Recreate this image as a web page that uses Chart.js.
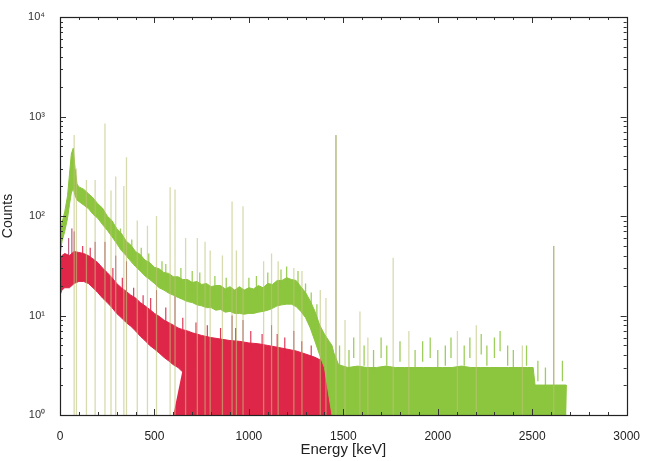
<!DOCTYPE html>
<html>
<head>
<meta charset="utf-8">
<script src="https://cdn.jsdelivr.net/npm/chart.js@4.4.0/dist/chart.umd.min.js"></script>
<style>
html,body{margin:0;padding:0;background:#fff;}
#wrap{width:646px;height:461px;position:relative;}
</style>
</head>
<body>
<div id="wrap"><canvas id="c" width="646" height="461"></canvas></div>
<script>
// ---- data ----
const xTicks = [0, 500, 1000, 1500, 2000, 2500, 3000];
const yTicks = [1, 10, 100, 1000, 10000];
const yTickLabels = ['10\u2070', '10\u00b9', '10\u00b2', '10\u00b3', '10\u2074'];

// green spectrum: band envelope (upper / lower)
const greenE  = [0,10,25,40,50,60,70,80,90,100,125,150,175,200,225,250,275,300,325,350,375,400,425,450,475,500,525,550,575,600,625,650,675,700,725,750,775,800,825,850,875,900,925,950,975,1000,1025,1050,1075,1100,1125,1150,1175,1200,1225,1250,1275,1300,1325,1350,1375,1400,1425,1440,1450,1475,1525,1575,1625,1675,1725,1775,1825,1875,1925,1975,2025,2075,2125,2175,2225,2275,2325,2375,2425,2475,2505,2515,2560,2600,2640,2680,2684];
const greenHi = [65,85,110,160,260,420,480,300,210,196,186,168,152,133,120,100,90,75,67,56,51,44,41,36,34,30.5,29.5,27,26.5,24.5,24.5,23,23,21.5,22,20.5,21,19.5,20,20,18.5,19.5,18,19.5,18,19,18.5,20,19,21,20.5,22.5,22.5,24,23,22.5,19.5,17,14,11,8,6.5,5.5,5,4.2,3.2,3,3.1,3,3,3.1,3,3,3,3,3,3,3,3.1,3,3,3,3,3,3,3,3,2,2,2,2,2,2];
const greenLo = [40,55,70,95,130,170,190,160,145,140,129,119,104,95,82,72,62,53,45,40,35,31,28,25,23,21,19,18,16.8,16,15.2,14.5,13.8,13.5,12.8,12.5,12,12,11.3,11.5,10.8,11,10.5,10.5,10.3,10.5,10.5,10.8,11,11.3,11.8,12.5,12.8,13,13,12.3,11,9.5,7.5,5.5,4,3,1.5,1,1,1,1,1,1,1,1,1,1,1,1,1,1,1,1,1,1,1,1,1,1,1,1,1,1,1,1,1,1];

// green sharp lines (energy keV, counts at top)
const greenPeakE = [75,87,140,186,238,270,295,338,352,409,463,511,583,609,665,727,768,795,860,911,934,969,1078,1120,1155,1238,1281,1378,1408,1461,1509,1588,1630,1764,1847,2104,2204,2448,2614];
const greenPeakC = [650,300,230,230,850,180,250,200,390,90,80,100,195,185,60,60,55,45,40,140,45,125,35,42,35,30,28,18,15,650,9,11,6,38,7,7,8,5,50];

// green channel-noise spikes above the band
const greenNoiseE = [320,380,430,470,540,560,640,700,740,820,880,1000,1040,1100,1170,1200,1260,1300,1330,1360,1480,1530,1555,1610,1660,1700,1730,1800,1880,1920,1960,2000,2040,2070,2140,2170,2230,2260,2300,2330,2370,2400,2470,2530,2570,2660];
const greenNoiseC = [75,58,48,42,35,33,30,28,27,25,24,24,25,27,29,31,28,21,17,13,5,4.5,6,5,4.5,6,5,5.5,4.5,5.5,6,4.5,5,6,5,6,6.5,5,6,7,5,4.5,5,3.5,3,3.5];

// red spectrum: band envelope (upper / lower)
const redE  = [0,10,25,50,75,100,125,150,175,200,225,250,275,300,325,350,375,400,425,450,475,500,525,550,575,600,625,650,675,700,725,750,800,850,900,950,1000,1050,1100,1150,1200,1250,1300,1350,1400,1425,1445];
const redHi = [32,40,42,40,44,43,42,40,37,34,30,27,24,21,19,17.5,16,15,13.5,12.5,11.5,10.5,9.8,9,8.5,8,7.5,7.2,7,6.7,6.5,6.3,6,5.8,5.6,5.5,5.3,5.2,5,4.8,4.6,4.4,4.1,3.8,3.4,3,2.6];
const redLo = [16,18,19,19,21,22,22,21,19,17,15,13.5,12,10.5,9.5,8.5,7.8,7,6.2,5.6,5,4.6,4.2,3.8,3.5,3.2,3,2.7,2.5,2.3,2.2,2.1,2,2,2,2,2,2,2,2,2,2,2,2,2,2,2];

// red sparse low-count floor (channels dropping to the axis)
const redFloorE = [600,650,700,750,800,900,1000,1100,1200,1300,1400,1445];
const redFloorV = [1,2.9,2.6,2.4,2.3,2.3,2.3,2.3,2.3,2.3,2.3,2.3];

// red sharp lines and channel noise
const redPeakE = [46,63,75,186,238,295,352,511,609,911,969,1120,1238];
const redPeakC = [60,75,70,55,55,40,35,18,16,10,9,8,7];
const redNoiseE = [120,160,280,330,390,440,480,560,650,720,780,850,930,1010,1070,1150,1190,1280,1330,1380];
const redNoiseC = [50,48,30,24,19,16,15,12,9.5,8.5,8,7.5,7.5,7,6.5,6.5,6,5.5,5,4.5];

// ---- helpers ----
const GREEN = 'rgb(140,197,62)';
const RED = 'rgb(222,38,72)';
const FONT = 'Liberation Sans, Arial, sans-serif';
function pts(xs, ys) { return xs.map((x, i) => ({x: x, y: ys[i]})); }
// vertical strokes; `depth` = how far (as a factor) each stroke reaches below its top
function spikes(xs, ys, depth) {
  const out = [];
  xs.forEach((x, i) => {
    const base = depth ? Math.max(1, ys[i] / depth) : 1;
    out.push({x: x, y: base}); out.push({x: x, y: ys[i]}); out.push({x: x, y: NaN});
  });
  return out;
}

const frameTicks = {
  id: 'frameTicks',
  afterDatasetsDraw(chart) {
    const ctx = chart.ctx, a = chart.chartArea, xs = chart.scales.x, ys = chart.scales.y;
    ctx.save();
    ctx.strokeStyle = '#333';
    ctx.lineWidth = 1;
    ctx.beginPath();
    for (let v = 0; v <= 3000; v += 100) {
      const px = Math.round(xs.getPixelForValue(v)) + 0.5;
      const len = (v % 500 === 0) ? 6 : 3;
      ctx.moveTo(px, a.bottom); ctx.lineTo(px, a.bottom - len);
      ctx.moveTo(px, a.top); ctx.lineTo(px, a.top + len);
    }
    for (let d = 1; d < 10000; d *= 10) {
      for (let m = 1; m <= 9; m++) {
        const py = Math.round(ys.getPixelForValue(d * m)) + 0.5;
        const len = m === 1 ? 6 : 3;
        ctx.moveTo(a.left, py); ctx.lineTo(a.left + len, py);
        ctx.moveTo(a.right, py); ctx.lineTo(a.right - len, py);
      }
    }
    ctx.stroke();
    ctx.lineWidth = 1.2;
    ctx.strokeStyle = '#222';
    ctx.strokeRect(Math.round(a.left) + 0.5, Math.round(a.top) + 0.5, Math.round(a.right - a.left), Math.round(a.bottom - a.top));
    ctx.restore();
  }
};

new Chart(document.getElementById('c'), {
  type: 'line',
  data: {
    datasets: [
      {data: spikes(greenPeakE, greenPeakC), borderColor: 'rgba(190,195,120,0.6)', borderWidth: 1.3, pointRadius: 0, spanGaps: false, fill: false},
      {data: spikes(greenNoiseE, greenNoiseC, 1.6), borderColor: 'rgba(140,197,62,0.85)', borderWidth: 1.3, pointRadius: 0, spanGaps: false, fill: false},
      {data: pts(greenE, greenHi), borderColor: GREEN, borderWidth: 1, pointRadius: 0, fill: false},
      {data: pts(greenE, greenLo), borderColor: GREEN, borderWidth: 1, pointRadius: 0, fill: '-1', backgroundColor: GREEN},
      {data: pts(redFloorE, redFloorV), borderColor: 'rgba(222,38,72,0)', borderWidth: 0, pointRadius: 0, fill: 'start', backgroundColor: RED},
      {data: spikes(redNoiseE, redNoiseC, 1.6), borderColor: 'rgba(222,38,72,0.9)', borderWidth: 1.2, pointRadius: 0, spanGaps: false, fill: false},
      {data: pts(redE, redHi), borderColor: RED, borderWidth: 1, pointRadius: 0, fill: false},
      {data: pts(redE, redLo), borderColor: RED, borderWidth: 1, pointRadius: 0, fill: '-1', backgroundColor: RED},
      {data: spikes(redPeakE, redPeakC, 3), borderColor: 'rgba(160,30,80,0.85)', borderWidth: 1, pointRadius: 0, spanGaps: false, fill: false},
      {data: [{x: 1461, y: 1}, {x: 1461, y: 650}], borderColor: 'rgba(110,110,40,0.8)', borderWidth: 0.8, pointRadius: 0, fill: false},
      {data: [{x: 2614, y: 1}, {x: 2614, y: 50}], borderColor: 'rgba(110,110,40,0.8)', borderWidth: 0.8, pointRadius: 0, fill: false}
    ]
  },
  options: {
    responsive: false,
    animation: false,
    events: [],
    layout: {padding: {top: 17, right: 16, left: 0, bottom: 0}},
    plugins: {legend: {display: false}, tooltip: {enabled: false}},
    elements: {line: {tension: 0}},
    scales: {
      x: {
        type: 'linear', min: 0, max: 3000,
        grid: {display: false}, border: {display: false},
        afterBuildTicks: s => { s.ticks = xTicks.map(v => ({value: v})); },
        afterFit: s => { s.height = 46; },
        ticks: {color: '#222', font: {family: FONT, size: 12}, padding: 6, maxRotation: 0, autoSkip: false, callback: v => String(v)},
        title: {display: true, text: 'Energy [keV]', color: '#222', font: {family: FONT, size: 15}, padding: {top: 0, bottom: 2}}
      },
      y: {
        type: 'logarithmic', min: 1, max: 10000,
        grid: {display: false}, border: {display: false},
        afterBuildTicks: s => { s.ticks = yTicks.map(v => ({value: v})); },
        afterFit: s => { s.width = 60; },
        ticks: {color: '#333', font: {family: FONT, size: 11}, padding: 7, callback: (v) => { const i = yTicks.indexOf(v); return i >= 0 ? yTickLabels[i] : ''; }},
        title: {display: true, text: 'Counts', color: '#222', font: {family: FONT, size: 14}, padding: {top: 0, bottom: 2}}
      }
    }
  },
  plugins: [frameTicks]
});
</script>
</body>
</html>
